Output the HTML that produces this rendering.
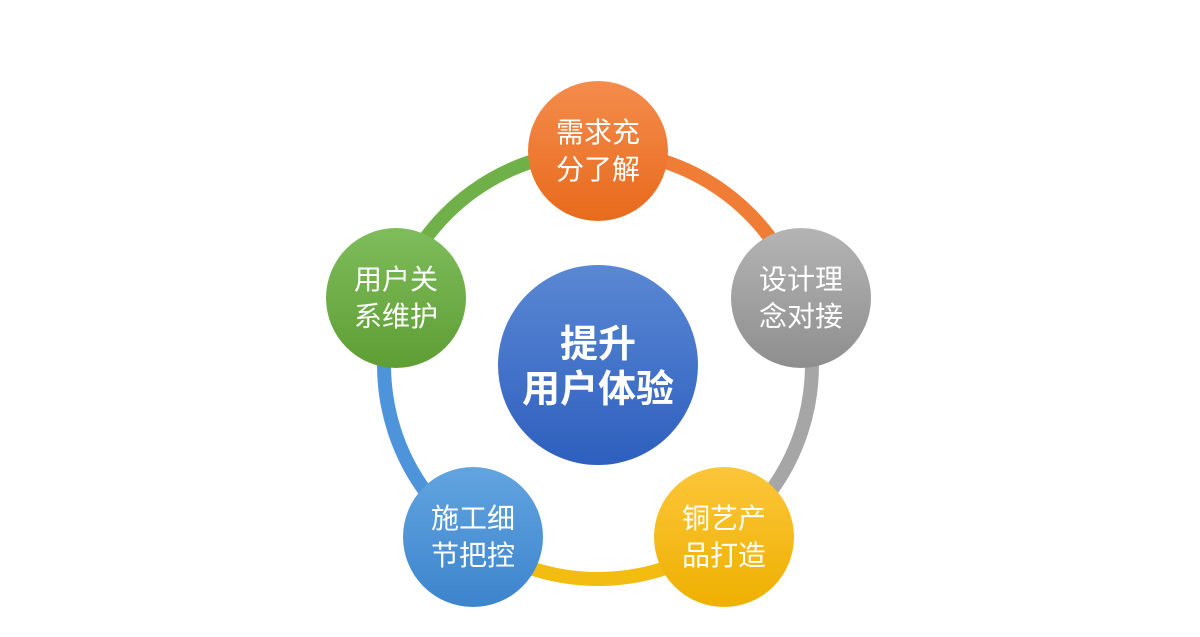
<!DOCTYPE html>
<html><head><meta charset="utf-8"><style>
html,body{margin:0;padding:0;background:#fff;}
svg{display:block;}
text{font-family:"Liberation Sans","Noto Sans CJK SC",sans-serif;fill:#fff;}
</style></head><body>
<svg width="1200" height="637" viewBox="0 0 1200 637">
<defs>
<linearGradient id="go" x1="0" y1="0" x2="0" y2="1"><stop offset="0" stop-color="#f48c4c"/><stop offset="1" stop-color="#e86a1c"/></linearGradient>
<linearGradient id="gg" x1="0" y1="0" x2="0" y2="1"><stop offset="0" stop-color="#b4b4b4"/><stop offset="1" stop-color="#8e8e8e"/></linearGradient>
<linearGradient id="gy" x1="0" y1="0" x2="0" y2="1"><stop offset="0" stop-color="#fcc63a"/><stop offset="1" stop-color="#eeb000"/></linearGradient>
<linearGradient id="gb" x1="0" y1="0" x2="0" y2="1"><stop offset="0" stop-color="#62a4e0"/><stop offset="1" stop-color="#3c84cc"/></linearGradient>
<linearGradient id="gn" x1="0" y1="0" x2="0" y2="1"><stop offset="0" stop-color="#7fbc5c"/><stop offset="1" stop-color="#5e9e34"/></linearGradient>
<linearGradient id="gc" x1="0" y1="0" x2="0" y2="1"><stop offset="0" stop-color="#5a88d4"/><stop offset="1" stop-color="#2e5fbe"/></linearGradient>
</defs>
<g fill="none" stroke-width="14">
<path d="M598 151 A214 214 0 0 1 801.5 298.9" stroke="#f07d36"/>
<path d="M801.5 298.9 A214 214 0 0 1 723.8 538.1" stroke="#a6a6a6"/>
<path d="M723.8 538.1 A214 214 0 0 1 472.2 538.1" stroke="#f2bc10"/>
<path d="M472.2 538.1 A214 214 0 0 1 394.5 298.9" stroke="#4d94da"/>
<path d="M394.5 298.9 A214 214 0 0 1 598 151" stroke="#70b048"/>
</g>
<circle cx="598" cy="365" r="100" fill="url(#gc)"/>
<circle cx="598" cy="151" r="70" fill="url(#go)"/>
<circle cx="801" cy="298" r="70" fill="url(#gg)"/>
<circle cx="724" cy="537" r="70" fill="url(#gy)"/>
<circle cx="473" cy="537" r="70" fill="url(#gb)"/>
<circle cx="396" cy="298" r="70" fill="url(#gn)"/>
<g font-size="28" text-anchor="middle">
<text x="598" y="142">需求充</text><text x="598" y="179">分了解</text>
<text x="801" y="289">设计理</text><text x="801" y="326">念对接</text>
<text x="724" y="528">铜艺产</text><text x="724" y="565">品打造</text>
<text x="473" y="528">施工细</text><text x="473" y="565">节把控</text>
<text x="396" y="289">用户关</text><text x="396" y="326">系维护</text>
</g>
<g font-size="38" font-weight="bold" text-anchor="middle">
<text x="598" y="357">提升</text><text x="598" y="402">用户体验</text>
</g>
</svg>
</body></html>
